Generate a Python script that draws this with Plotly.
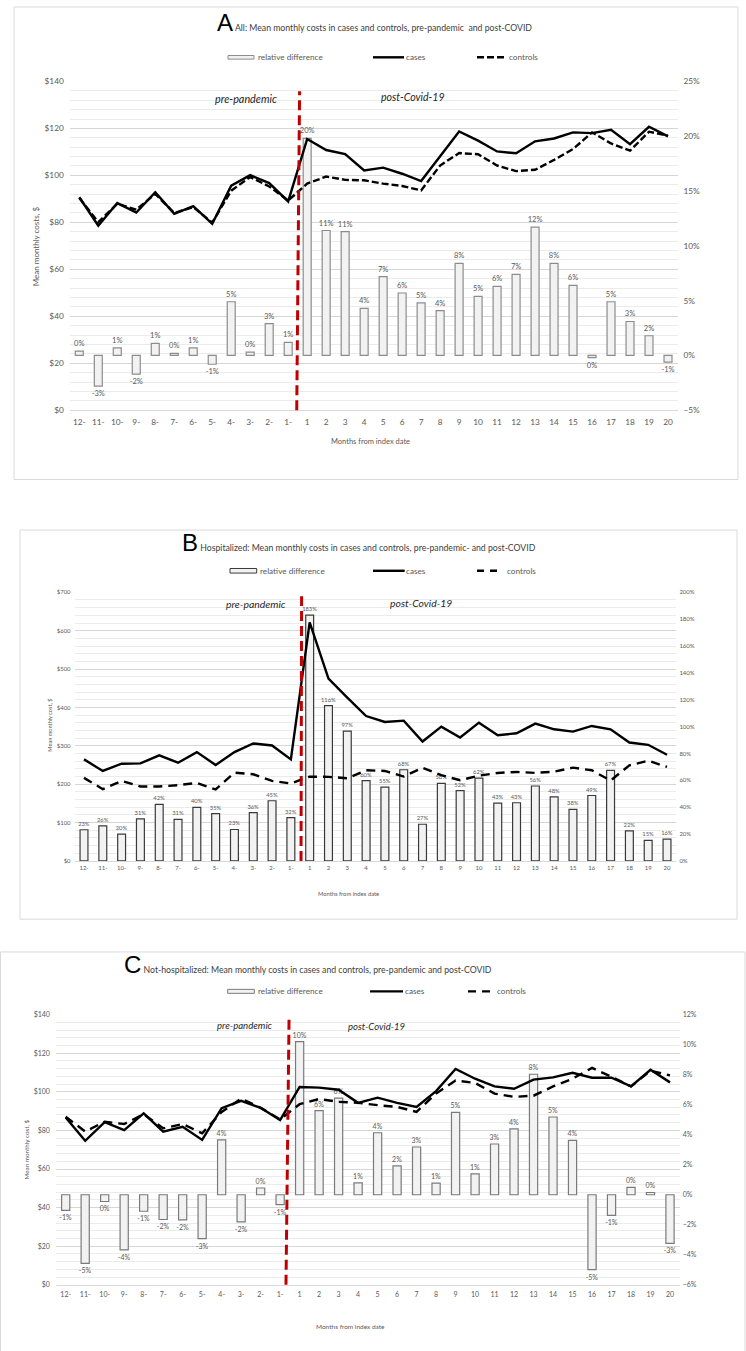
import plotly.graph_objects as go

W, H = 746, 1351

# ---------------- data ----------------
months = ["12-", "11-", "10-", "9-", "8-", "7-", "6-", "5-", "4-", "3-", "2-", "1-",
          "1", "2", "3", "4", "5", "6", "7", "8", "9", "10",
          "11", "12", "13", "14", "15", "16", "17", "18", "19", "20"]

# Panel A: All
a_reldiff = [0.4, -2.8, 0.7, -1.7, 1.1, 0.2, 0.7, -0.8, 4.9, 0.3, 2.9, 1.2,
             19.8, 11.4, 11.3, 4.3, 7.2, 5.7, 4.8, 4.1, 8.4, 5.4,
             6.3, 7.4, 11.7, 8.4, 6.4, -0.2, 4.9, 3.1, 1.8, -0.6]
a_cases = [90.7, 78.6, 88.2, 84.2, 92.8, 83.6, 86.9, 79.4, 95.6, 100.1, 96.7, 88.9,
           115.5, 110.8, 109.1, 102.1, 103.3, 100.7, 97.6, 108.0, 118.7, 114.8,
           110.2, 109.4, 114.5, 115.7, 118.3, 118.0, 119.4, 113.3, 120.7, 116.6]
a_controls = [90.4, 80.1, 87.9, 85.4, 92.1, 84.0, 86.5, 79.9, 93.5, 99.3, 95.3, 89.3,
              96.5, 99.5, 98.1, 97.9, 96.5, 95.5, 93.6, 104.2, 109.5, 109.0,
              104.2, 101.8, 102.4, 106.6, 111.2, 118.3, 113.6, 110.5, 118.6, 116.9]

# Panel B: Hospitalized
b_reldiff = [23.2, 26.1, 20.0, 31.3, 42.1, 31.0, 39.9, 35.2, 23.4, 36.0, 44.8, 32.3,
             183.0, 115.6, 96.7, 59.8, 54.9, 67.9, 27.3, 57.8, 52.4, 61.7,
             43.0, 43.3, 55.8, 47.7, 38.4, 48.7, 67.4, 22.4, 15.3, 16.2]
b_cases = [264.6, 234.5, 253.4, 254.3, 275.0, 256.0, 283.6, 250.0, 283.6, 306.0, 300.8, 264.6,
           621.5, 475.0, 425.8, 377.6, 362.0, 365.5, 311.2, 350.0, 321.5, 360.3,
           327.6, 332.7, 357.7, 343.0, 337.0, 351.7, 343.0, 308.6, 302.6, 276.7]
b_controls = [216.4, 187.0, 208.6, 194.0, 194.0, 197.4, 203.4, 186.2, 230.0, 225.8, 208.6, 201.7,
              219.8, 219.0, 215.5, 236.2, 234.5, 219.8, 243.0, 223.3, 210.3, 222.4,
              229.3, 231.9, 229.3, 232.7, 243.0, 236.2, 209.5, 249.0, 261.2, 244.8]

# Panel C: Not-hospitalized
c_reldiff = [-1.04, -4.57, -0.45, -3.68, -1.1, -1.65, -1.68, -2.93, 3.66, -1.81, 0.45, -0.66,
             10.2, 5.6, 6.44, 0.79, 4.13, 1.92, 3.18, 0.77, 5.49, 1.39,
             3.38, 4.39, 8.03, 5.18, 3.62, -4.99, -1.37, 0.49, 0.15, -3.24]
c_cases = [86.7, 74.6, 84.3, 80.2, 88.8, 79.4, 81.9, 75.1, 91.5, 95.3, 91.7, 85.4,
           102.5, 102.2, 101.1, 94.3, 97.0, 94.3, 92.2, 100.4, 111.9, 106.8,
           102.8, 101.6, 106.3, 107.5, 109.9, 107.3, 107.3, 102.8, 111.4, 104.9]
c_controls = [87.1, 79.4, 84.5, 83.3, 88.4, 81.1, 83.3, 78.5, 89.6, 96.5, 91.7, 85.7,
              93.6, 96.3, 94.8, 94.3, 93.1, 92.2, 89.6, 99.1, 105.9, 104.6,
              99.1, 97.4, 98.0, 102.8, 106.8, 112.4, 107.8, 102.8, 111.0, 108.5]

titles = [
    "All: Mean monthly costs in cases and controls, pre-pandemic  and post-COVID",
    "Hospitalized: Mean monthly costs in cases and controls, pre-pandemic- and post-COVID",
    "Not-hospitalized: Mean monthly costs in cases and controls, pre-pandemic and post-COVID",
]
letters = ["A", "B", "C"]
ytitles = ["Mean monthly costs, $", "Mean monthly cost, $", "Mean monthly cost, $"]
legend_names = ["relative difference", "cases", "controls"]

FONT = "Lato, Carlito, 'Liberation Sans', sans-serif"
GREY = "#595959"
BAR_FILL = "#f2f2f2"


def px(x):
    return x / W


def py(y):
    return 1 - y / H


panels = [
    dict(rel=a_reldiff, cases=a_cases, ctrl=a_controls,
         xd=(69.8, 677.5), yd=(77.0, 408.3), lrange=(0, 140), ldt=20, lminor=4,
         rrange=(-5, 25), rdt=5, tick=8.3, bartext=7.5, barline="#8c8c8c",
         ctrldash="7px,3px", lw=2.4, lso=5, rso=5, xso=4,
         frame=(14, 2, 738, 478), title_xy=(216, 17.7), tsize=8.7, lsize=24,
         leg=dict(y=52.7, rect=(228, 254), rtext=257, cline=(373, 404), ctext=405,
                  dline=(477, 504), dtext=508, ddash="7px,3px", rh=3.6),
         pre=(245.5, 94, 10.8), post=(412.5, 93, 10.6),
         redx=(11.6, 11.45), redtop=0.97,
         ytit=(36, 243, 8), xtit=(370, 440, 7.5)),
    dict(rel=b_reldiff, cases=b_cases, ctrl=b_controls,
         xd=(74.6, 676.4), yd=(591.7, 862.3), lrange=(0, 700), ldt=100, lminor=20,
         rrange=(0, 200), rdt=20, tick=6, bartext=5.8, barline="#3a3a3a",
         ctrldash="9px,6px", lw=2.4, lso=3, rso=2, xso=1,
         frame=(20, 529, 737, 921), title_xy=(181, 541.7), tsize=8.7, lsize=24,
         leg=dict(y=570, rect=(230, 256.7), rtext=258.7, cline=(373, 404.7), ctext=405,
                  dline=(477, 497), dtext=505.7, ddash="7px,6px", rh=4.6),
         pre=(255.5, 603.3, 10.4), post=(421, 602.3, 10.4),
         redx=(11.57, 11.54), redtop=0.985,
         ytit=(50, 726, 5.6), xtit=(348, 895, 5.8)),
    dict(rel=c_reldiff, cases=c_cases, ctrl=c_controls,
         xd=(55.95, 679.75), yd=(1017.2, 1289.3), lrange=(0, 140), ldt=20, lminor=4,
         rrange=(-6, 12), rdt=2, tick=7, bartext=7, barline="#7a7a7a",
         ctrldash="9px,6px", lw=2.4, lso=5, rso=2, xso=3,
         frame=(0.5, 954, 745, 1360), title_xy=(123, 966.7), tsize=8.7, lsize=24,
         leg=dict(y=993.7, rect=(227.7, 254.3), rtext=256.7, cline=(370, 403), ctext=404,
                  dline=(468, 492), dtext=496, ddash="8px,6px", rh=4),
         pre=(245, 1028.3, 9.6), post=(376.5, 1029.3, 9.5),
         redx=(11.46, 11.3), redtop=1.0,
         ytit=(26, 1153, 6.3), xtit=(350, 1331, 6.5)),
]

fig = go.Figure()
layout = dict(
    width=W, height=H, autosize=False,
    margin=dict(l=0, r=0, t=0, b=0),
    paper_bgcolor="white", plot_bgcolor="rgba(0,0,0,0)",
    font=dict(family=FONT, color=GREY, size=9),
    barmode="overlay",
    showlegend=False,
)
shapes = []
annotations = []

for i, p in enumerate(panels):
    n = i + 1
    xname = "x" if n == 1 else f"x{n}"
    ybar = "y" if n == 1 else f"y{2 * n - 1}"
    yline = f"y{2 * n}"

    labels = [f"{int(round(v))}%" for v in p["rel"]]
    fig.add_trace(go.Bar(
        x=months, y=p["rel"], xaxis=xname, yaxis=ybar,
        name=legend_names[0],
        marker=dict(color=BAR_FILL, line=dict(color=p["barline"], width=1.2)),
        width=0.42,
        text=labels, textposition="outside", textangle=0, constraintext="none",
        cliponaxis=False,
        textfont=dict(size=p["bartext"], color=GREY, family=FONT),
    ))
    fig.add_trace(go.Scatter(
        x=months, y=p["cases"], xaxis=xname, yaxis=yline, mode="lines",
        name=legend_names[1],
        line=dict(color="black", width=p["lw"]),
    ))
    fig.add_trace(go.Scatter(
        x=months, y=p["ctrl"], xaxis=xname, yaxis=yline, mode="lines",
        name=legend_names[2],
        line=dict(color="black", width=p["lw"], dash=p["ctrldash"]),
    ))

    xd = [px(p["xd"][0]), px(p["xd"][1])]
    yd = [py(p["yd"][1]), py(p["yd"][0])]
    xkey = "xaxis" if n == 1 else f"xaxis{n}"
    ybkey = "yaxis" if n == 1 else f"yaxis{2 * n - 1}"
    ylkey = f"yaxis{2 * n}"
    layout[xkey] = dict(
        domain=xd, anchor=ybar, type="category",
        categoryorder="array", categoryarray=months,
        showgrid=False, showline=True, linecolor="#d9d9d9", linewidth=1,
        ticks="", ticklen=0, tickfont=dict(size=p["tick"], color=GREY),
        ticklabelstandoff=p["xso"], zeroline=False, fixedrange=True,
    )
    layout[ybkey] = dict(
        domain=yd, anchor=xname, side="right",
        range=list(p["rrange"]), dtick=p["rdt"], tick0=0, ticksuffix="%",
        showgrid=False, zeroline=False, showline=False, ticks="", ticklen=0,
        tickfont=dict(size=p["tick"], color=GREY), ticklabelstandoff=p["rso"],
    )
    layout[ylkey] = dict(
        overlaying=ybar, anchor=xname, side="left",
        range=list(p["lrange"]), dtick=p["ldt"], tick0=0, tickprefix="$",
        showgrid=True, gridcolor="#d6d6d6", gridwidth=1,
        minor=dict(dtick=p["lminor"], showgrid=True, gridcolor="#ebebeb", gridwidth=1),
        zeroline=False, showline=False, ticks="", ticklen=0,
        tickfont=dict(size=p["tick"], color=GREY), ticklabelstandoff=p["lso"],
    )

    # frame
    fx0, fy0, fx1, fy1 = p["frame"]
    shapes.append(dict(type="rect", xref="paper", yref="paper",
                       x0=px(fx0), x1=px(fx1), y0=py(fy1), y1=py(fy0),
                       line=dict(color="#d9d9d9", width=1), fillcolor="rgba(0,0,0,0)",
                       layer="below"))
    # index-date marker (red dashed)
    shapes.append(dict(type="line", xref=xname, yref=f"{ybar} domain",
                       x0=p["redx"][1], x1=p["redx"][0], y0=0, y1=p["redtop"],
                       line=dict(color="#c00000", width=3, dash="10px,5px"),
                       layer="above"))

    # legend (drawn like the source: wide flat box, solid line, dashed line)
    lg = p["leg"]
    shapes.append(dict(type="rect", xref="paper", yref="paper",
                       x0=px(lg["rect"][0]), x1=px(lg["rect"][1]),
                       y0=py(lg["y"] + lg["rh"] / 2), y1=py(lg["y"] - lg["rh"] / 2),
                       line=dict(color=p["barline"], width=1), fillcolor=BAR_FILL))
    shapes.append(dict(type="line", xref="paper", yref="paper",
                       x0=px(lg["cline"][0]), x1=px(lg["cline"][1]),
                       y0=py(lg["y"]), y1=py(lg["y"]),
                       line=dict(color="black", width=2.4)))
    shapes.append(dict(type="line", xref="paper", yref="paper",
                       x0=px(lg["dline"][0]), x1=px(lg["dline"][1]),
                       y0=py(lg["y"]), y1=py(lg["y"]),
                       line=dict(color="black", width=2.4, dash=lg["ddash"])))
    for name, xt in zip(legend_names, (lg["rtext"], lg["ctext"], lg["dtext"])):
        annotations.append(dict(xref="paper", yref="paper", x=px(xt), y=py(lg["y"]),
                                xanchor="left", yanchor="middle", showarrow=False,
                                text=name, borderpad=0,
                                font=dict(size=8.2, color=GREY, family=FONT)))

    # title
    annotations.append(dict(
        xref="paper", yref="paper", x=px(p["title_xy"][0]), y=py(p["title_xy"][1]),
        xanchor="left", yanchor="middle", showarrow=False, borderpad=0,
        text=(f"<span style='font-family:Liberation Sans, Arial;font-size:{p['lsize']}px;color:#000'>"
              f"{letters[i]}</span> {titles[i]}"),
        font=dict(size=p["tsize"], color="#404040", family=FONT),
    ))
    # period labels
    for key, txt in (("pre", "pre-pandemic"), ("post", "post-Covid-19")):
        annotations.append(dict(xref="paper", yref="paper", x=px(p[key][0]), y=py(p[key][1]),
                                xanchor="center", yanchor="middle", showarrow=False,
                                text=f"<i>{txt}</i>",
                                font=dict(size=p[key][2], color="#262626", family=FONT)))
    # axis titles
    annotations.append(dict(xref="paper", yref="paper", x=px(p["ytit"][0]), y=py(p["ytit"][1]),
                            xanchor="center", yanchor="middle", showarrow=False, textangle=-90,
                            text=ytitles[i],
                            font=dict(size=p["ytit"][2], color=GREY, family=FONT)))
    annotations.append(dict(xref="paper", yref="paper", x=px(p["xtit"][0]), y=py(p["xtit"][1]),
                            xanchor="center", yanchor="middle", showarrow=False,
                            text="Months from index date",
                            font=dict(size=p["xtit"][2], color=GREY, family=FONT)))

layout["shapes"] = shapes
layout["annotations"] = annotations
fig.update_layout(**layout)

# the page's default 8px body margin would push the 746x1351 figure off the window
fig.write_html(
    "out.html",
    config={"displayModeBar": False},
    post_script="document.body.style.margin='0px';document.body.style.overflow='hidden';",
)
